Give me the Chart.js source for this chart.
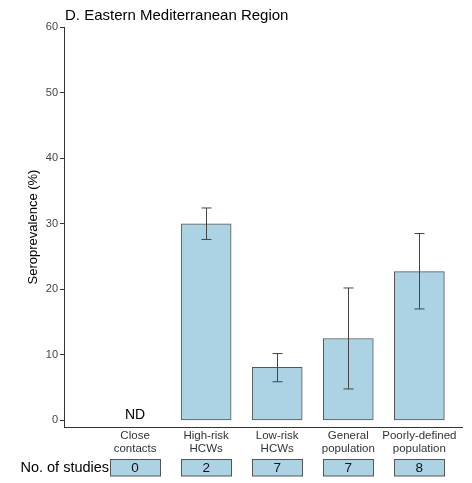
<!DOCTYPE html>
<html>
<head>
<meta charset="utf-8">
<script src="https://cdn.jsdelivr.net/npm/chart.js@4/dist/chart.umd.min.js"></script>
<style>
    html, body { margin: 0; padding: 0; background: #fff; }
    #wrap { width: 472px; height: 483px; position: relative; }
</style>
</head>
<body>
<div id="wrap"><canvas id="seroChart"></canvas></div>
<script>
// Data
const categories = [['Close', 'contacts'], ['High-risk', 'HCWs'], ['Low-risk', 'HCWs'], ['General', 'population'], ['Poorly-defined', 'population']];
const seroprevalence = [null, 30.0, 8.1, 12.5, 22.7];   // null = ND (no data)
const ciLow = [null, 27.6, 5.9, 4.8, 17.0];
const ciHigh = [null, 32.4, 10.2, 20.2, 28.5];
const studies = [0, 2, 7, 7, 8];
const yTicks = [0, 10, 20, 30, 40, 50, 60];

const FILL = '#abd3e3';
const EDGE = '#555555';
const FONT = "'Liberation Sans', Arial, sans-serif";

// Error bars, ND label, study-count boxes and panel title
const extras = {
    id: 'extras',
    afterDatasetsDraw(chart) {
        const ctx = chart.ctx;
        const xs = chart.scales.x;
        const ys = chart.scales.y;
        ctx.save();

        // error bars
        ctx.strokeStyle = '#444';
        ctx.lineWidth = 1;
        for (let i = 0; i < categories.length; i++) {
            if (ciLow[i] == null) continue;
            const x = Math.round(xs.getPixelForValue(i)) + 0.5;
            const yl = ys.getPixelForValue(ciLow[i]);
            const yh = ys.getPixelForValue(ciHigh[i]);
            ctx.beginPath();
            ctx.moveTo(x, yl); ctx.lineTo(x, yh);
            ctx.moveTo(x - 5, yl); ctx.lineTo(x + 5, yl);
            ctx.moveTo(x - 5, yh); ctx.lineTo(x + 5, yh);
            ctx.stroke();
        }

        // ND label for missing categories
        ctx.fillStyle = '#000';
        ctx.font = '14px ' + FONT;
        ctx.textAlign = 'center';
        ctx.textBaseline = 'middle';
        for (let i = 0; i < categories.length; i++) {
            if (seroprevalence[i] == null) {
                ctx.fillText('ND', xs.getPixelForValue(i), ys.getPixelForValue(0) - 5);
            }
        }

        // No. of studies row
        const boxTop = 459.5, boxH = 16.5;
        for (let i = 0; i < studies.length; i++) {
            const cx = xs.getPixelForValue(i);
            ctx.fillStyle = FILL;
            ctx.fillRect(Math.round(cx - 25) + 0.5, boxTop, 50, boxH);
            ctx.strokeStyle = EDGE;
            ctx.strokeRect(Math.round(cx - 25) + 0.5, boxTop, 50, boxH);
            ctx.fillStyle = '#111';
            ctx.font = '13.5px ' + FONT;
            ctx.fillText(String(studies[i]), cx, boxTop + boxH / 2 + 0.5);
        }
        ctx.textAlign = 'right';
        ctx.font = '14.5px ' + FONT;
        ctx.fillStyle = '#000';
        ctx.fillText('No. of studies', xs.getPixelForValue(0) - 26, boxTop + boxH / 2 + 0.5);

        // panel title
        ctx.textAlign = 'left';
        ctx.textBaseline = 'alphabetic';
        ctx.font = '15px ' + FONT;
        ctx.fillText('D. Eastern Mediterranean Region', 65, 19.5);
        ctx.restore();
    }
};

function createChart() {
    const ctx = document.getElementById('seroChart').getContext('2d');
    return new Chart(ctx, {
        type: 'bar',
        data: {
            datasets: [{
                data: seroprevalence.map((v, i) => ({ x: i, y: v })),
                backgroundColor: FILL,
                borderColor: EDGE,
                borderWidth: 1,
                borderSkipped: false,
                barThickness: 50
            }]
        },
        options: {
            responsive: true,
            maintainAspectRatio: false,
            animation: false,
            layout: { padding: { top: 27, right: 10, bottom: 0, left: 0 } },
            plugins: {
                legend: { display: false },
                tooltip: { enabled: false }
            },
            scales: {
                x: {
                    type: 'linear',
                    min: -1,
                    max: 4.6,
                    offset: false,
                    grid: { display: false, drawTicks: false },
                    border: { display: true, color: '#333', width: 1 },
                    afterFit: s => { s.height = 56; },
                    ticks: {
                        stepSize: 1,
                        autoSkip: false,
                        maxRotation: 0,
                        padding: 2,
                        color: '#333',
                        font: { family: FONT, size: 11.5, lineHeight: 1.15 },
                        callback: v => (Number.isInteger(v) && v >= 0 && v < categories.length) ? categories[v] : ''
                    }
                },
                y: {
                    min: -1,
                    max: 60,
                    afterFit: s => { s.width = 64; },
                    afterBuildTicks: s => { s.ticks = yTicks.map(v => ({ value: v })); },
                    grid: { drawOnChartArea: false, drawTicks: true, tickLength: 4, color: '#333' },
                    border: { display: true, color: '#333', width: 1 },
                    ticks: {
                        padding: 2,
                        color: '#444',
                        font: { family: FONT, size: 11 }
                    },
                    title: {
                        display: true,
                        text: 'Seroprevalence (%)',
                        color: '#000',
                        padding: { top: 26, bottom: 0 },
                        font: { family: FONT, size: 13 }
                    }
                }
            }
        },
        plugins: [extras]
    });
}

document.addEventListener('DOMContentLoaded', createChart);
</script>
</body>
</html>
